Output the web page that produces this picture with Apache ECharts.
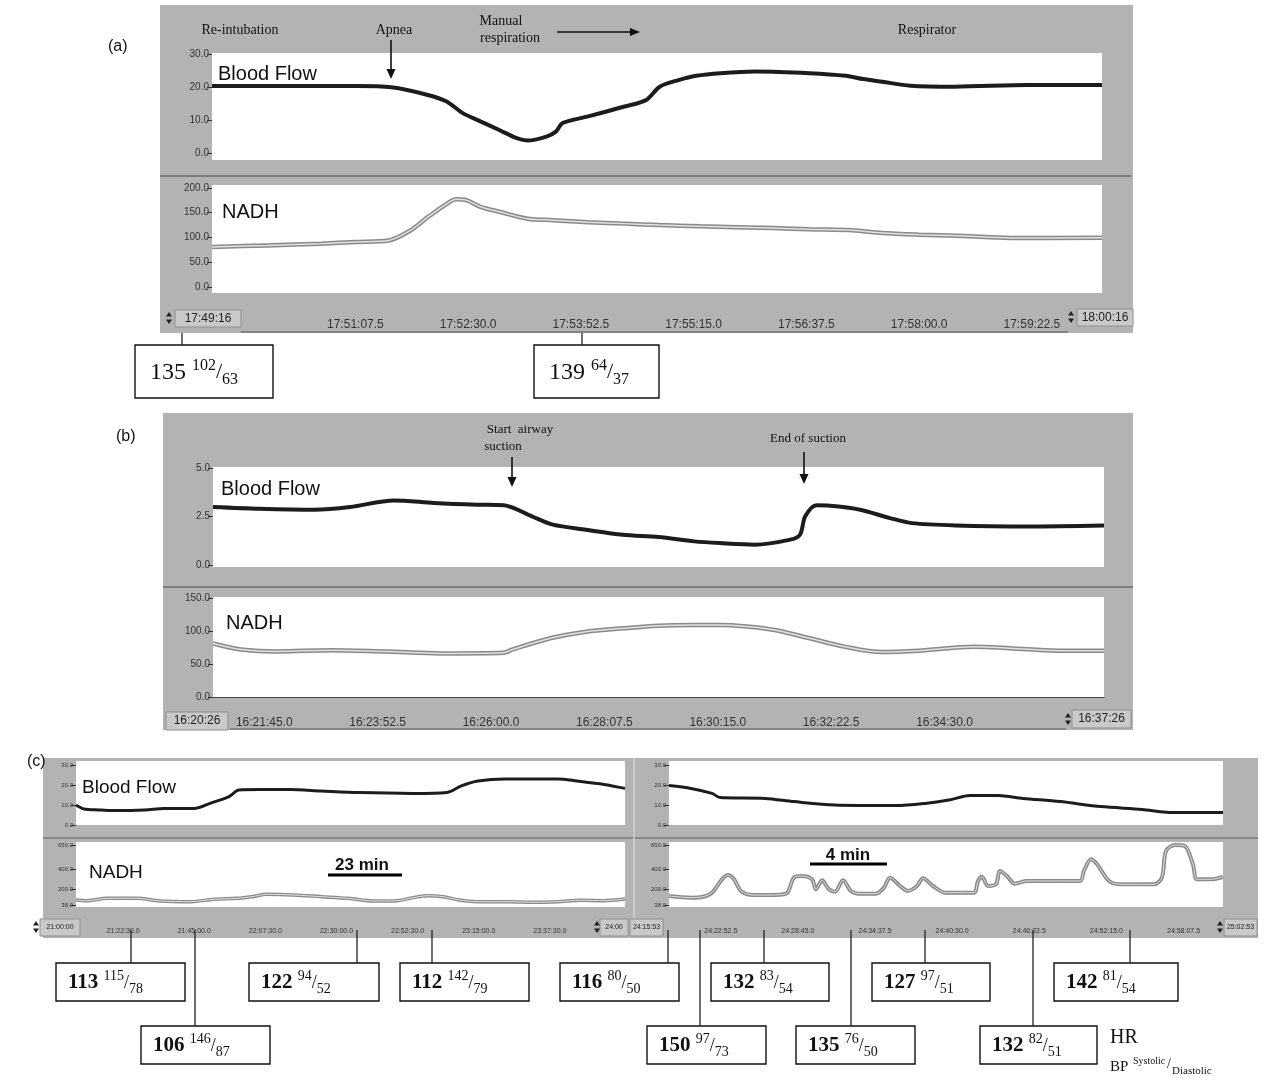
<!DOCTYPE html>
<html><head><meta charset="utf-8">
<script src="https://cdn.jsdelivr.net/npm/echarts@6/dist/echarts.min.js"></script>
<style>html,body{margin:0;padding:0;background:#fff}#c{width:1272px;height:1085px}</style>
</head><body><div id="c"></div><script>
// ---------- DATA ----------
// Panel (a): seconds from 17:49:16
const aBfT = [0,107,133,160,174,186,199,213,226,234,248,255,260,279,306,322,332,346,359,377,403,443,470,483,497,518,551,605,660];
const aBfV = [20.3,20.3,19.9,17.6,15.6,12.1,9.6,7.0,4.5,3.8,5.0,6.5,9.1,11.1,14.1,16.1,20.1,22.1,23.4,24.2,24.7,24.2,23.4,22.4,21.6,20.4,20.1,20.6,20.6];
const aNadhT = [0,41,81,107,131,147,160,174,181,189,199,213,234,253,279,306,332,362,416,443,475,497,524,557,592,660];
const aNadhV = [80.8,84,87.5,91,94,114,141,168,177,175,162,152,138,135,131,128,125,122.6,119,116.5,114.5,109,105.7,103,99,99.7];
const aTickT = [111.5,194,276.5,359,441.5,524,606.5];
const aTickL = ['17:51:07.5','17:52:30.0','17:53:52.5','17:55:15.0','17:56:37.5','17:58:00.0','17:59:22.5'];
const aEnds = ['17:49:16','18:00:16'];
const aSpan = 660;
const aBfTicks = [0,10,20,30];
const aNadhTicks = [0,50,100,150,200];
const aHR = [135,139], aSys = [102,64], aDia = [63,37];

// Panel (b): seconds from 16:20:26
const bBfT = [0,53,116,157,207,253,302,333,365,389,427,469,510,551,580,620,661,672,678,691,716,741,775,800,850,934,1020];
const bBfV = [2.99,2.90,2.85,2.99,3.33,3.2,3.11,3.08,2.51,2.08,1.82,1.56,1.44,1.22,1.13,1.05,1.31,1.56,2.51,3.08,3.02,2.85,2.42,2.16,2.04,1.99,2.04];
const bNadhT = [0,32,73,136,198,261,333,343,386,427,469,510,551,580,641,683,724,765,808,871,912,975,1020];
const bNadhV = [81,72,69,71,69,66,67,72,89,99,104,108,109,109,102,89,76,68,70,76,74,70,70];
const bTickT = [79,206.5,334,461.5,589,716.5,844];
const bTickL = ['16:21:45.0','16:23:52.5','16:26:00.0','16:28:07.5','16:30:15.0','16:32:22.5','16:34:30.0'];
const bEnds = ['16:20:26','16:37:26'];
const bSpan = 1020;
const bBfTicks = [0,2.5,5];
const bNadhTicks = [0,50,100,150];

// Panel (c) left: seconds from 21:00:00
const cLBfT = [0,157,452,748,1357,1731,2341,2636,3010,3207,3620,4210,4820,5567,6630,7298,7593,7908,8439,9482,9855,10387,10800];
const cLBfV = [10,8,7.5,7.2,7.5,8.3,8.3,10.8,14.2,17.5,17.7,17.7,17,16.2,15.8,16.3,19.7,22,23,23,22,20.3,18.3];
const cLNadhT = [0,216,610,1200,1652,2262,2714,3167,3462,3757,4288,4820,5350,5862,6314,6630,6924,7219,7534,7908,8498,9029,9482,9934,10387,10800];
const cLNadhV = [89,82,106,106,79,72,96,106,123,147,140,123,106,79,82,113,133,123,89,72,72,65,72,86,82,99];
const cLTickT = [1350,2700,4050,5400,6750,8100,9450];
const cLTickL = ['21:22:30.0','21:45:00.0','22:07:30.0','22:30:00.0','22:52:30.0','23:15:00.0','23:37:30.0'];
const cLEnds = ['21:00:00','24:00'];
const cLSpan = 10800;

// Panel (c) right: seconds from 24:15:53
const cRBfT = [0,112,219,260,489,636,845,1155,1303,1425,1532,1675,1802,1990,2199,2408,2550,2820];
const cRBfV = [19.7,18.3,15.8,13.7,13.3,11.7,10,9.7,10.8,12.5,14.7,14.7,13.3,11.7,9.2,7.8,6.3,6.3];
const cRNadhT = [0,112,168,219,270,300,331,366,428,509,596,636,677,728,748,779,814,845,886,926,967,1054,1094,1125,1176,1216,1262,1293,1344,1405,1552,1573,1593,1624,1664,1685,1720,1761,1822,2092,2112,2148,2179,2240,2301,2469,2509,2530,2576,2626,2667,2688,2759,2820];
const cRNadhV = [130,113,120,164,300,344,300,181,140,140,154,317,334,300,198,290,198,174,290,181,154,154,215,317,232,181,232,310,232,164,164,283,327,232,249,385,334,256,283,283,385,504,453,283,249,249,317,589,650,640,453,300,300,324];
const cRTickT = [419.5,772,1124.5,1477,1829.5,2182,2534.5];
const cRTickL = ['24:22:52.5','24:28:45.0','24:34:37.5','24:40:30.0','24:46:22.5','24:52:15.0','24:58:07.5'];
const cREnds = ['24:15:53','25:02:53'];
const cRSpan = 2820;
const cBfTicks = [0,10,20,30];
const cNadhTicks = [38,200,400,650];
const cHR  = [113,106,122,112,116,150,132,135,127,132,142];
const cSys = [115,146,94,142,80,97,83,76,97,82,81];
const cDia = [78,87,52,79,50,73,54,50,51,51,54];

// ---------- LAYOUT ----------
const SANS = 'Liberation Sans';
const SERIF = 'Liberation Serif';
const GRAY = '#b3b3b3';
const grids = [], xAxes = [], yAxes = [], series = [];

function addDataGrid(l, t, w, h, span, ymin, ymax, ticks, fs, showBottomLine) {
  const i = grids.length;
  grids.push({left:l, top:t, width:w, height:h, show:true, backgroundColor:'#ffffff', borderWidth:0});
  xAxes.push({gridIndex:i, type:'value', min:0, max:span, axisLabel:{show:false}, axisTick:{show:false},
    splitLine:{show:false}, axisLine:{show:!!showBottomLine, lineStyle:{color:'#444', width:1.2}}});
  yAxes.push({gridIndex:i, type:'value', min:ymin, max:ymax, splitLine:{show:false}, axisLine:{show:false},
    axisTick:{show:true, length:5, customValues:ticks, lineStyle:{color:'#333'}},
    axisLabel:{customValues:ticks, formatter:v=>v.toFixed(1), fontSize:fs, color:'#333', fontFamily:SANS, margin:3}});
  return i;
}
function addStrip(l, t, w, span, tickT, tickL, fs) {
  const i = grids.length;
  grids.push({left:l, top:t, width:w, height:2, show:false});
  xAxes.push({gridIndex:i, type:'value', min:0, max:span, position:'bottom', axisLine:{show:false}, axisTick:{show:false}, splitLine:{show:false},
    axisLabel:{customValues:tickT, formatter:v=>tickL[tickT.indexOf(v)], fontSize:fs, color:'#333', fontFamily:SANS, margin:1}});
  yAxes.push({gridIndex:i, type:'value', show:false, min:0, max:1});
  return i;
}
function addLine(gi, T, V, color, width, z) {
  series.push({type:'line', xAxisIndex:gi, yAxisIndex:gi, data:T.map((t,k)=>[t,V[k]]), symbol:'none', showSymbol:false,
    smooth:0.3, lineStyle:{color, width}, z, silent:true});
}
function addBf(gi, T, V, w) { addLine(gi, T, V, '#1c1c1c', w, 3); }
function addNadh(gi, T, V, w) { addLine(gi, T, V, '#8a8a8a', w, 3); addLine(gi, T, V, '#e2e2e2', Math.max(1, w-3), 4); }

// (a)
const gaBf = addDataGrid(212, 53, 890, 107, aSpan, -2.1, 30.3, aBfTicks, 10);
const gaN  = addDataGrid(212, 185, 890, 108, aSpan, -12.1, 206, aNadhTicks, 10);
addStrip(203, 316, 902, aSpan, aTickT, aTickL, 12);
addBf(gaBf, aBfT, aBfV, 4); addNadh(gaN, aNadhT, aNadhV, 4.5);
// (b)
const gbBf = addDataGrid(213, 467, 891, 100, bSpan, -0.1, 5.05, bBfTicks, 10);
const gbN  = addDataGrid(213, 597, 891, 100, bSpan, 0, 151.5, bNadhTicks, 10, true);
addStrip(194, 714, 907, bSpan, bTickT, bTickL, 12);
addBf(gbBf, bBfT, bBfV, 4); addNadh(gbN, bNadhT, bNadhV, 4.5);
// (c) left
const gcLBf = addDataGrid(76, 761, 549, 64, cLSpan, 0, 32, cBfTicks, 6);
const gcLN  = addDataGrid(76, 842, 549, 65, cLSpan, 17.6, 680.6, cNadhTicks, 6);
addStrip(52, 925, 569, cLSpan, cLTickT, cLTickL, 7);
addBf(gcLBf, cLBfT, cLBfV, 3); addNadh(gcLN, cLNadhT, cLNadhV, 3.5);
// (c) right
const gcRBf = addDataGrid(669, 761, 554, 64, cRSpan, 0, 32, cBfTicks, 6);
const gcRN  = addDataGrid(669, 842, 554, 65, cRSpan, 17.6, 680.6, cNadhTicks, 6);
addStrip(629, 925, 617, cRSpan, cRTickT, cRTickL, 7);
addBf(gcRBf, cRBfT, cRBfV, 3); addNadh(gcRN, cRNadhT, cRNadhV, 4);

// ---------- GRAPHICS ----------
const els = [];
const mctx = document.createElement('canvas').getContext('2d');
function tw(s, size, family, weight){ mctx.font = `${weight||'normal'} ${size}px "${family}"`; return mctx.measureText(String(s)).width; }
function rect(x,y,w,h,fill,stroke,lw,z){ els.push({type:'rect', shape:{x,y,width:w,height:h}, style:{fill, stroke:stroke||null, lineWidth:lw||0}, z:z==null?-10:z, silent:true}); }
function line(x1,y1,x2,y2,stroke,lw,z){ els.push({type:'line', shape:{x1,y1,x2,y2}, style:{stroke, lineWidth:lw}, z:z==null?-5:z, silent:true}); }
function text(x,y,s,size,family,opt){ opt=opt||{}; els.push({type:'text', x, y, style:{text:String(s), fontSize:size, fontFamily:family, fontWeight:opt.weight||'normal', fill:opt.fill||'#111', align:opt.align||'left', verticalAlign:opt.va||'middle'}, z:opt.z==null?6:opt.z, silent:true}); }
function arrowDown(x,y1,y2){ line(x,y1,x,y2-8,'#111',1.6,6); els.push({type:'polygon', shape:{points:[[x-4.5,y2-10],[x+4.5,y2-10],[x,y2]]}, style:{fill:'#111'}, z:6, silent:true}); }
function arrowRight(x1,x2,y){ line(x1,y,x2-8,y,'#111',1.4,6); els.push({type:'polygon', shape:{points:[[x2-10,y-4],[x2-10,y+4],[x2,y]]}, style:{fill:'#111'}, z:6, silent:true}); }
function spinner(x,yc){ els.push({type:'polygon', shape:{points:[[x,yc-1.5],[x+6,yc-1.5],[x+3,yc-6]]}, style:{fill:'#222'}, z:6, silent:true});
  els.push({type:'polygon', shape:{points:[[x,yc+1.5],[x+6,yc+1.5],[x+3,yc+6]]}, style:{fill:'#222'}, z:6, silent:true}); }
function timeBox(x,y,w,h,s,fs){ rect(x,y,w,h,'#c9c9c9','#8f8f8f',1,-4); text(x+w/2,y+h/2,s,fs,SANS,{align:'center',fill:'#222'}); }
function callout(bx,by,bw,bh,lx,ly,hr,sys,dia,o){
  rect(bx,by,bw,bh,'#fff','#111',1.4,5); line(lx,ly,lx,by,'#222',1.3,5);
  const w = o.bold?'bold':'normal';
  let x = bx + o.pad; const cy = by + bh/2 + 1;
  text(x, cy, hr, o.n, SERIF, {weight:w});
  x += tw(hr+' ', o.n, SERIF, w);
  text(x, cy - o.n*0.3, sys, o.s, SERIF);
  x += tw(sys, o.s, SERIF);
  text(x, cy, '/', o.sl, SERIF);
  x += tw('/', o.sl, SERIF);
  text(x, cy + o.n*0.32, dia, o.s, SERIF);
}

// Panel (a) frame
rect(160, 5, 973, 328, GRAY);
line(160, 176, 1131, 176, '#6a6a6a', 1.6);
line(241, 332, 1068, 332, '#555', 1.2);
timeBox(175, 310, 66, 17, aEnds[0], 12); spinner(166, 318);
timeBox(1077, 309, 56, 17, aEnds[1], 12); spinner(1068, 317);
text(240, 30, 'Re-intubation', 14, SERIF, {align:'center'});
text(394, 30, 'Apnea', 14, SERIF, {align:'center'});
text(501, 21, 'Manual', 14, SERIF, {align:'center'});
text(510, 38, 'respiration', 14, SERIF, {align:'center'});
arrowRight(557, 640, 32);
text(927, 30, 'Respirator', 14, SERIF, {align:'center'});
arrowDown(391, 40, 79);
text(218, 74, 'Blood Flow', 20, SANS);
text(222, 212, 'NADH', 20, SANS);
text(108, 47, '(a)', 16, SANS);
callout(135, 345, 138, 53, 182, 333, aHR[0], aSys[0], aDia[0], {pad:15, n:24, s:16, sl:22});
callout(534, 345, 125, 53, 582, 333, aHR[1], aSys[1], aDia[1], {pad:15, n:24, s:16, sl:22});

// Panel (b) frame
rect(163, 413, 970, 317, GRAY);
line(163, 587, 1133, 587, '#6a6a6a', 1.6);
line(230, 729, 1066, 729, '#555', 1.2);
timeBox(166, 712, 62, 18, bEnds[0], 12);
timeBox(1072, 710, 59, 18, bEnds[1], 12); spinner(1065, 719);
text(520, 430, 'Start  airway', 13, SERIF, {align:'center'});
text(503, 447, 'suction', 13, SERIF, {align:'center'});
arrowDown(512, 457, 487);
text(808, 439, 'End of suction', 13, SERIF, {align:'center'});
arrowDown(804, 452, 484);
text(221, 489, 'Blood Flow', 20, SANS);
text(226, 623, 'NADH', 20, SANS);
text(116, 437, '(b)', 16, SANS);

// Panel (c) frame
rect(43, 758, 1215, 180, GRAY);
line(43, 838, 1258, 838, '#7a7a7a', 1.4);
line(634, 758, 634, 918, '#d2d2d2', 1.5);
timeBox(40, 919, 40, 17, cLEnds[0], 7); spinner(33, 927);
timeBox(600, 919, 28, 17, cLEnds[1], 7); spinner(594, 927);
timeBox(630, 919, 33, 17, cREnds[0], 7);
timeBox(1224, 919, 33, 17, cREnds[1], 7); spinner(1217, 927);
text(82, 788, 'Blood Flow', 19, SANS);
text(89, 873, 'NADH', 19, SANS);
text(362, 865, '23 min', 17, SANS, {weight:'bold', align:'center'});
line(328, 875, 402, 875, '#000', 3, 6);
text(848, 855, '4 min', 17, SANS, {weight:'bold', align:'center'});
line(810, 864, 887, 864, '#000', 3, 6);
text(27, 762, '(c)', 16, SANS);

const cBoxes = [
  [56,1,129,131],[141,2,129,195],[249,1,130,357],[400,1,129,432],
  [560,1,119,668],[647,2,119,700],[711,1,118,764],[796,2,119,851],
  [872,1,118,925],[980,2,117,1033],[1054,1,124,1130]
];
cBoxes.forEach((b,k)=>{
  const by = b[1]===1 ? 963 : 1026;
  callout(b[0], by, b[2], 38, b[3], 930, cHR[k], cSys[k], cDia[k], {pad:12, n:21, s:14, sl:18, bold:true});
});
text(1110, 1038, 'HR', 20, SERIF);
text(1110, 1067, 'BP', 15, SERIF);
text(1133, 1061, 'Systolic', 10, SERIF);
text(1167, 1064, '/', 14, SERIF);
text(1172, 1071, 'Diastolic', 11, SERIF);

const chart = echarts.init(document.getElementById('c'), null, {renderer:'canvas'});
chart.setOption({
  animation:false,
  backgroundColor:'#ffffff',
  grid:grids, xAxis:xAxes, yAxis:yAxes, series,
  graphic:{elements:els}
});
</script></body></html>
